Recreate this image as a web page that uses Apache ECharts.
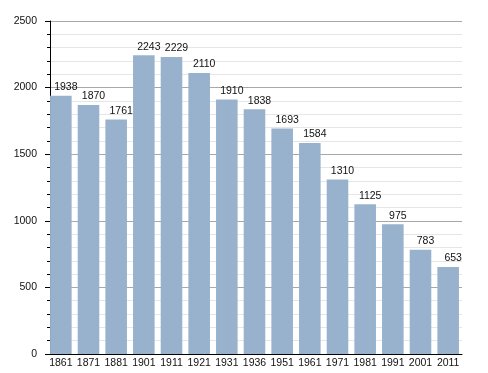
<!DOCTYPE html>
<html><head><meta charset="utf-8">
<script src="https://cdn.jsdelivr.net/npm/echarts@6/dist/echarts.min.js"></script>
<style>html,body{margin:0;padding:0;background:#fff}#c{width:488px;height:373px}</style>
</head><body><div id="c"></div>
<script>
var categories = ['1861','1871','1881','1901','1911','1921','1931','1936','1951','1961','1971','1981','1991','2001','2011'];
var population = [1938,1870,1761,2243,2229,2110,1910,1838,1693,1584,1310,1125,975,783,653];
var yTicks = [0, 500, 1000, 1500, 2000, 2500];

var chart = echarts.init(document.getElementById('c'), null, {renderer:'canvas'});
chart.setOption({
  animation:false,
  backgroundColor:'#fff',
  textStyle:{fontFamily:'Liberation Sans'},
  grid:{left:47, right:26, top:21, bottom:19},
  xAxis:{
    type:'category', data:categories,
    axisLine:{lineStyle:{color:'#000', width:1}},
    axisTick:{show:false},
    axisLabel:{color:'#111', fontSize:10.5, margin:4, interval:0, fontFamily:'Liberation Sans'}
  },
  yAxis:{
    type:'value', min:yTicks[0], max:yTicks[yTicks.length-1], interval:500,
    offset:-3,
    axisLine:{show:true, lineStyle:{color:'#000', width:1}},
    axisTick:{show:true, length:5, lineStyle:{color:'#000'}},
    minorTick:{show:true, splitNumber:5, length:3, lineStyle:{color:'#000'}},
    splitLine:{show:true, lineStyle:{color:'#a8a8a8', width:1}},
    minorSplitLine:{show:true, lineStyle:{color:'#e6e6e6', width:1}},
    axisLabel:{color:'#111', fontSize:10.5, margin:13, fontFamily:'Liberation Sans',
      formatter:function(v){return String(v);}}
  },
  series:[{
    type:'bar', data:population,
    barCategoryGap:'22%',
    itemStyle:{color:'#98b2cd'},
    label:{show:true, position:'top', distance:3, offset:[5,0], color:'#111', fontSize:10.5, fontFamily:'Liberation Sans'}
  }]
});
</script></body></html>
